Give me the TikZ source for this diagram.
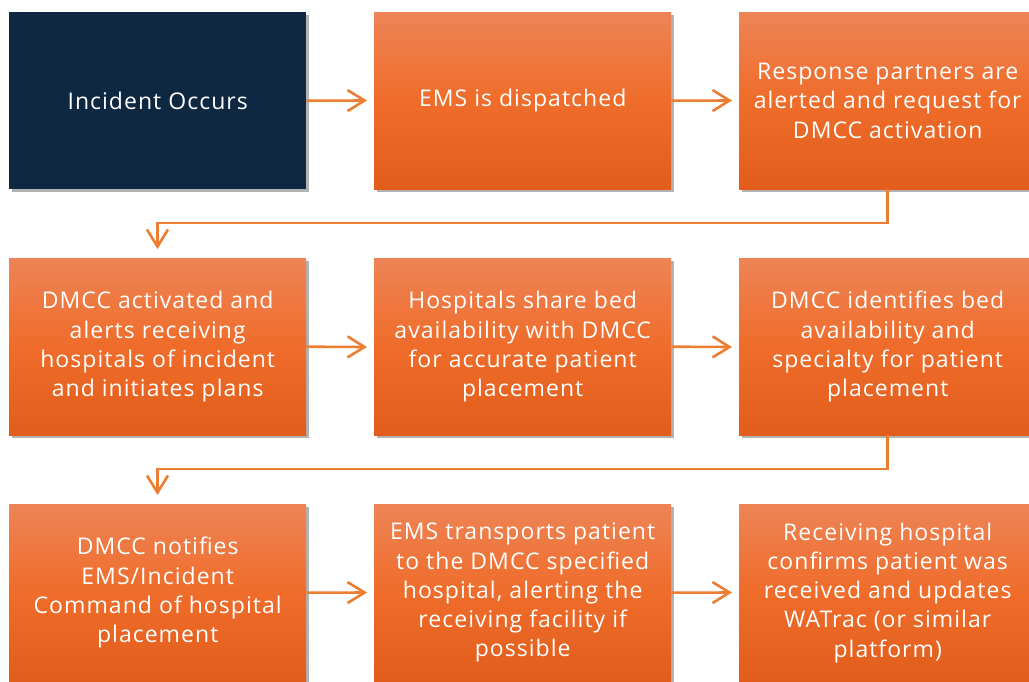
\documentclass[tikz,border=0pt]{standalone}
\usepackage{fontspec}
\setmainfont[LetterSpace=4.5]{Open Sans}
\usetikzlibrary{arrows.meta,shadows}
\definecolor{navy}{HTML}{0F2841}
\definecolor{otop}{HTML}{EE8456}
\definecolor{omid}{HTML}{EF6C2A}
\definecolor{obot}{HTML}{E25D1C}
\definecolor{oline}{HTML}{ED7D31}
\tikzset{
  box/.style={minimum width=297pt, minimum height=177pt, inner sep=0pt, anchor=north west,
    align=center, text=white,
    font=\fontsize{23pt}{29.3pt}\selectfont,
    drop shadow={opacity=0.3, shadow xshift=3pt, shadow yshift=-3pt, fill=black}},
  obox/.style={box, top color=otop, bottom color=obot, middle color=omid},
  nbox/.style={box, fill=navy},
  conn/.style={draw=oline, line width=2.6pt, -{Straight Barb[length=17pt,width=21pt,line width=2.6pt]}},
}
\begin{document}
\begin{tikzpicture}[x=1pt,y=-1pt]
\useasboundingbox (0,0) rectangle (1029,681);
\fill[white] (0,0) rectangle (1029,681);
% row 1
\node[nbox] (a1) at (9,12) {Incident Occurs};
\node[obox] (a2) at (374,12) {EMS is dispatched};
\node[obox] (a3) at (739,12) {Response partners are\\alerted and request for\\DMCC activation};
% row 2
\node[obox] (b1) at (9,258) {DMCC activated and\\alerts receiving\\hospitals of incident\\and initiates plans};
\node[obox] (b2) at (374,258) {Hospitals share bed\\availability with DMCC\\for accurate patient\\placement};
\node[obox] (b3) at (739,258) {DMCC identifies bed\\availability and\\specialty for patient\\placement};
% row 3
\node[obox] (c1) at (9,504) {DMCC notifies\\EMS/Incident\\Command of hospital\\placement};
\node[obox] (c2) at (374,504) {EMS transports patient\\to the DMCC specified\\hospital, alerting the\\receiving facility if\\possible};
\node[obox] (c3) at (739,504) {Receiving hospital\\confirms patient was\\received and updates\\WATrac (or similar\\platform)};
% coordinates for arrow tips
\coordinate (t12) at (367,100.5);
\coordinate (t23) at (732,100.5);
\coordinate (t45) at (367,347);
\coordinate (t56) at (732,347);
\coordinate (t78) at (367,592.5);
\coordinate (t89) at (732,592.5);
\coordinate (e1) at (157.5,249);
\coordinate (e2) at (157.5,495);
\draw[conn] (a1.east) -- (t12);
\draw[conn] (a2.east) -- (t23);
\draw[conn] (b1.east) -- (t45);
\draw[conn] (b2.east) -- (t56);
\draw[conn] (c1.east) -- (t78);
\draw[conn] (c2.east) -- (t89);
\draw[conn] (a3.south) |- (157.5,223) -- (e1);
\draw[conn] (b3.south) |- (157.5,469) -- (e2);
\end{tikzpicture}
\end{document}
